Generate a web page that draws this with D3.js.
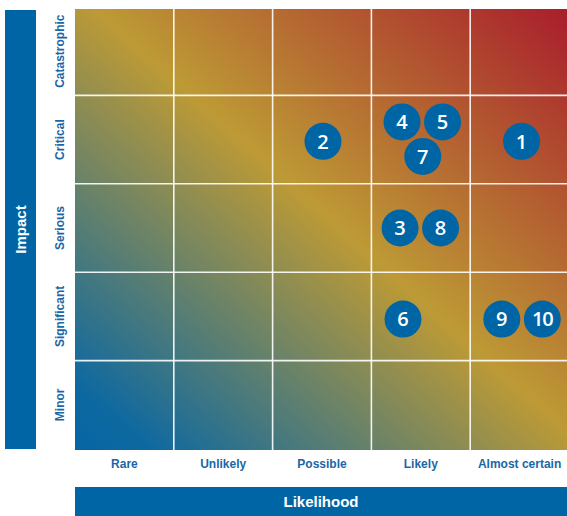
<!DOCTYPE html>
<html lang="en">
<head>
    <meta charset="UTF-8">
    <title>risk matrix</title>
    <script src="https://d3js.org/d3.v7.min.js"></script>
    <style>
        body{margin:0;background:#fff;}
        text{font-family:"Liberation Sans",Arial,sans-serif;}
    </style>
</head>
<body>
<svg id="chart" width="567" height="516"></svg>
<script>
    // categories
    const likelihood = ['Rare','Unlikely','Possible','Likely','Almost certain'];
    const impact = ['Minor','Significant','Serious','Critical','Catastrophic'];
    // risks: id, position on likelihood axis (0-5), position on impact axis (0-5)
    const riskIds = [1,2,3,4,5,6,7,8,9,10];
    const riskLikelihood = [4.52,2.51,3.29,3.31,3.72,3.32,3.52,3.70,4.32,4.73];
    const riskImpact = [3.48,3.48,2.50,3.70,3.70,1.47,3.31,2.50,1.47,1.47];

    const blue = '#0065a4';
    const svg = d3.select('#chart');
    const plot = {left:75,right:569,top:9,bottom:450};

    const x = d3.scaleLinear().domain([0,5]).range([plot.left, plot.right]);
    const y = d3.scaleLinear().domain([0,5]).range([449, 7]);
    const xBand = d3.scaleBand().domain(likelihood).range(x.range());
    const yBand = d3.scaleBand().domain(impact).range(y.range());

    const defs = svg.append('defs');
    const grad = defs.append('linearGradient').attr('id','bg')
        .attr('x1','0').attr('y1','1').attr('x2','1').attr('y2','0');
    grad.append('stop').attr('offset','0').attr('stop-color','#0565a3');
    grad.append('stop').attr('offset','0.08').attr('stop-color','#0f69a0');
    grad.append('stop').attr('offset','0.52').attr('stop-color','#bd9a35');
    grad.append('stop').attr('offset','1').attr('stop-color','#a91d2c');

    svg.append('rect')
        .attr('x',plot.left).attr('y',plot.top)
        .attr('width',plot.right-plot.left).attr('height',plot.bottom-plot.top)
        .attr('fill','url(#bg)');

    // grid
    const grid = svg.append('g').attr('stroke','#fff').attr('stroke-width',1.6).attr('stroke-opacity',0.9);
    grid.selectAll('line.v').data(d3.range(1,5)).join('line')
        .attr('class','v')
        .attr('x1',d=>x(d)).attr('x2',d=>x(d))
        .attr('y1',plot.top).attr('y2',plot.bottom);
    grid.selectAll('line.h').data(d3.range(1,5)).join('line')
        .attr('class','h')
        .attr('x1',plot.left).attr('x2',plot.right)
        .attr('y1',d=>y(d)).attr('y2',d=>y(d));

    // axis labels
    const xAxis = svg.append('g')
        .attr('transform',`translate(0,${plot.bottom})`)
        .call(d3.axisBottom(xBand).tickSize(0).tickPadding(9));
    xAxis.select('.domain').remove();
    xAxis.selectAll('text')
        .attr('fill','#1a66a6').attr('font-size','12px').attr('font-weight','bold');

    const yAxis = svg.append('g')
        .attr('transform',`translate(${plot.left},0)`)
        .call(d3.axisLeft(yBand).tickSize(0).tickPadding(0));
    yAxis.select('.domain').remove();
    yAxis.selectAll('text')
        .attr('fill','#1a66a6').attr('font-size','12px').attr('font-weight','bold')
        .attr('text-anchor','middle')
        .attr('transform','rotate(-90)')
        .attr('x',0).attr('y',-11).attr('dy','0');

    // title bars
    svg.append('rect').attr('x',5).attr('y',10).attr('width',31).attr('height',439).attr('fill',blue);
    svg.append('text').text('Impact')
        .attr('transform',`translate(26,${10+439/2}) rotate(-90)`)
        .attr('text-anchor','middle').attr('fill','#fff')
        .attr('font-size','15px').attr('font-weight','bold');
    svg.append('rect').attr('x',75).attr('y',487).attr('width',492).attr('height',29).attr('fill',blue);
    svg.append('text').text('Likelihood')
        .attr('x',75+492/2).attr('y',507)
        .attr('text-anchor','middle').attr('fill','#fff')
        .attr('font-size','15px').attr('font-weight','bold');

    // risks
    const risks = riskIds.map((id,i)=>({id, l:riskLikelihood[i], s:riskImpact[i]}));
    const g = svg.selectAll('g.risk').data(risks).join('g')
        .attr('class','risk')
        .attr('transform',d=>`translate(${x(d.l)},${y(d.s)})`);
    g.append('circle').attr('r',18.5).attr('fill',blue);
    g.append('text').text(d=>d.id)
        .attr('text-anchor','middle').attr('dy','0.36em')
        .attr('fill','#fff').attr('font-size','20px').attr('font-weight','600')
        .style('font-family','"Open Sans",sans-serif')
        .attr('letter-spacing',d=>d.id>9?'-1px':null);
</script>
</body>
</html>
